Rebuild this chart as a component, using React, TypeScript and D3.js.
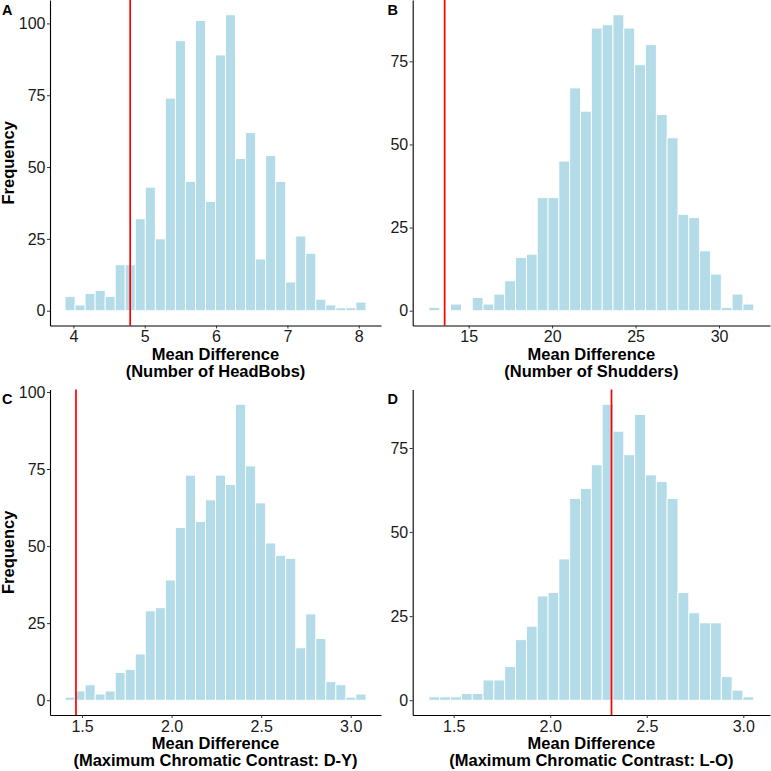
import React, { useEffect, useRef } from 'react';
import * as d3 from 'd3';

// counts per bin (30 bins each)
const countsA = [5, 2, 6, 7, 5, 16, 16, 32, 43, 25, 74, 94, 45, 101, 38, 89, 103, 53, 62, 18, 54, 45, 10, 26, 20, 4, 2, 1, 1, 3];
const countsB = [1, 0, 2, 0, 4, 2, 5, 9, 16, 17, 34, 34, 45, 67, 60, 85, 86, 89, 85, 74, 80, 59, 52, 29, 28, 18, 11, 1, 5, 2];
const countsC = [1, 3, 5, 2, 3, 9, 10, 15, 29, 30, 39, 56, 73, 58, 65, 73, 70, 96, 76, 64, 51, 47, 46, 17, 28, 20, 6, 5, 1, 2];
const countsD = [1, 1, 1, 2, 2, 6, 6, 10, 18, 22, 31, 32, 42, 60, 63, 70, 88, 80, 73, 85, 67, 65, 60, 32, 26, 23, 23, 7, 3, 1];

// first bin edge and bin width
const binStart = [3.883, 12.62, 1.405, 1.372];
const binWidth = [0.1406, 0.6487, 0.056, 0.05607];

// observed value (red line)
const observed = [4.796, 13.56, 1.466, 2.3175];

const xTicksA = [4, 5, 6, 7, 8];
const xTicksB = [15, 20, 25, 30];
const xTicksCD = [1.5, 2.0, 2.5, 3.0];
const yTicksAC = [0, 25, 50, 75, 100];
const yTicksBD = [0, 25, 50, 75];

const tags = ['A', 'B', 'C', 'D'];
const subtitles = [
  '(Number of HeadBobs)',
  '(Number of Shudders)',
  '(Maximum Chromatic Contrast: D-Y)',
  '(Maximum Chromatic Contrast: L-O)',
];

const FONT = '"Liberation Sans", Arial, Helvetica, sans-serif';

const App = () => {
  const ref = useRef<SVGSVGElement>(null);

  useEffect(() => {
    const svg = d3.select(ref.current);
    svg.selectAll('*').remove();

    const panels = [
      { counts: countsA, xTicks: xTicksA, yTicks: yTicksAC, fmt: d3.format('d') },
      { counts: countsB, xTicks: xTicksB, yTicks: yTicksBD, fmt: d3.format('d') },
      { counts: countsC, xTicks: xTicksCD, yTicks: yTicksAC, fmt: d3.format('.1f') },
      { counts: countsD, xTicks: xTicksCD, yTicks: yTicksBD, fmt: d3.format('.1f') },
    ];

    panels.forEach((p, i) => {
      const col = i % 2;
      const row = Math.floor(i / 2);
      const ox = col * 385.5;
      const oy = row * 389.5;
      const left = ox + (col === 0 ? 50 : 27.2);
      const right = ox + (col === 0 ? 381 : 384.5);
      const top = oy;
      const bottom = oy + 325.5;

      const lo = binStart[i];
      const hi = lo + p.counts.length * binWidth[i];
      const pad = 0.05 * (hi - lo);
      const x = d3.scaleLinear().domain([lo - pad, hi + pad]).range([left, right]);
      const maxC = d3.max(p.counts) as number;
      const y = d3.scaleLinear().domain([-0.05 * maxC, 1.05 * maxC]).range([bottom, top]);

      const g = svg.append('g');

      // bars
      g.selectAll('rect')
        .data(p.counts.map((c, k) => ({ c, x0: lo + k * binWidth[i], x1: lo + (k + 1) * binWidth[i] })))
        .enter()
        .filter((d) => d.c > 0)
        .append('rect')
        .attr('x', (d) => x(d.x0))
        .attr('width', (d) => x(d.x1) - x(d.x0))
        .attr('y', (d) => y(d.c))
        .attr('height', (d) => y(0) - y(d.c))
        .attr('fill', '#b3dbe8')
        .attr('stroke', 'white')
        .attr('stroke-width', 0.9);

      // observed value
      g.append('line')
        .attr('x1', x(observed[i]))
        .attr('x2', x(observed[i]))
        .attr('y1', top)
        .attr('y2', bottom)
        .attr('stroke', 'red')
        .attr('stroke-width', 1.7);

      // axes
      const xAxis = g
        .append('g')
        .attr('transform', `translate(0,${bottom})`)
        .call(d3.axisBottom(x).tickValues(p.xTicks).tickFormat(p.fmt as any).tickSize(3).tickSizeOuter(0).tickPadding(2.5));
      const yAxis = g
        .append('g')
        .attr('transform', `translate(${left},0)`)
        .call(d3.axisLeft(y).tickValues(p.yTicks).tickFormat(d3.format('d') as any).tickSize(3).tickSizeOuter(0).tickPadding(1.5));

      [xAxis, yAxis].forEach((a) => {
        a.select('.domain').attr('stroke', 'black').attr('stroke-width', 1.1);
        a.selectAll('.tick line').attr('stroke', '#333');
        a.selectAll('.tick text')
          .attr('fill', '#1a1a1a')
          .style('font-family', FONT)
          .style('font-size', '16px');
      });

      // axis titles
      const cx = (left + right) / 2;
      g.append('text')
        .attr('x', cx)
        .attr('y', bottom + 34)
        .attr('text-anchor', 'middle')
        .style('font-family', FONT)
        .style('font-weight', 'bold')
        .style('font-size', '16.5px')
        .text('Mean Difference');
      g.append('text')
        .attr('x', cx)
        .attr('y', bottom + 51)
        .attr('text-anchor', 'middle')
        .style('font-family', FONT)
        .style('font-weight', 'bold')
        .style('font-size', '16.5px')
        .text(subtitles[i]);

      if (col === 0) {
        g.append('text')
          .attr('transform', `translate(13.5,${(top + bottom) / 2}) rotate(-90)`)
          .attr('text-anchor', 'middle')
          .style('font-family', FONT)
          .style('font-weight', 'bold')
          .style('font-size', '16.5px')
          .text('Frequency');
      }

      // panel tag
      g.append('text')
        .attr('x', ox + 2)
        .attr('y', oy + 14.5)
        .style('font-family', FONT)
        .style('font-weight', 'bold')
        .style('font-size', '14.5px')
        .text(tags[i]);
    });
  }, []);

  return (
    <svg
      ref={ref}
      width={771}
      height={771}
      style={{ position: 'absolute', left: 0, top: 0, background: 'white', display: 'block' }}
    />
  );
};

export default App;
